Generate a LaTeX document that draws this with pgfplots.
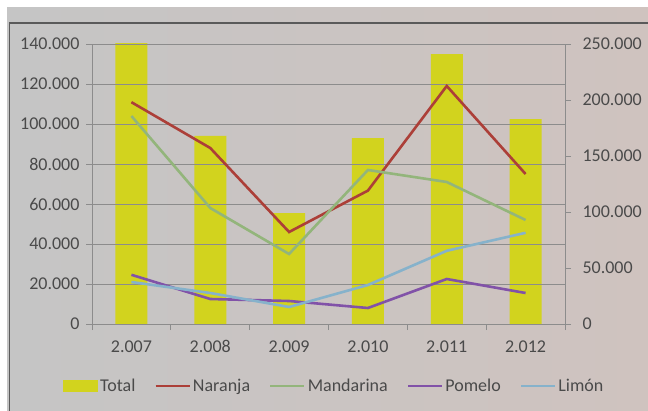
\documentclass[border=0pt]{standalone}
\usepackage{fontspec}
\setmainfont{Carlito}
\usepackage{pgfplots}
\pgfplotsset{compat=1.18}

\definecolor{bgL}{HTML}{C5C5C5}
\definecolor{bgR}{HTML}{CFC3BF}
\definecolor{framec}{HTML}{5A5A5A}
\definecolor{gridc}{HTML}{8C8C8C}
\definecolor{txt}{HTML}{4A4A4A}
\definecolor{barY}{HTML}{D2D31E}
\definecolor{naranja}{HTML}{AC3F38}
\definecolor{mandarina}{HTML}{93B57B}
\definecolor{pomelo}{HTML}{8152A8}
\definecolor{limon}{HTML}{86B2CB}

\pgfplotsset{
  base/.style={
    at={(92pt,86pt)}, anchor=south west,
    scale only axis, width=473pt, height=280pt,
    xmin=-0.5, xmax=5.5,
    axis line style={gridc, line width=0.8pt},
    tick style={gridc, line width=0.8pt},
    tick align=outside,
    major tick length=6pt,
    scaled y ticks=false,
    tick label style={font=\fontsize{18}{20}\selectfont, text=txt},
  },
}

\begin{document}
\begin{tikzpicture}
\fill[white] (0pt,0pt) rectangle (648pt,410pt);
\shade[left color=bgL, right color=bgR] (7pt,0pt) rectangle (648pt,402pt);
\draw[framec, line width=1.2pt] (9.5pt,-5pt) -- (9.5pt,387pt) -- (660pt,387pt);

% Total on the right axis
\begin{axis}[base,
  axis y line*=right, axis x line=none,
  ymin=0, ymax=250000,
  ytick={0,50000,100000,150000,200000,250000},
  yticklabels={0,50.000,100.000,150.000,200.000,250.000},
  yticklabel style={xshift=8pt},
  ybar, bar width=32pt,
]
\addplot[fill=barY, draw=none] coordinates {
  (0,251000) (1,168000) (2,99000) (3,166000) (4,241000) (5,183000)
};
\end{axis}

% varieties on the left axis
\begin{axis}[base,
  axis y line*=left, axis x line*=bottom,
  ymin=0, ymax=140000,
  ytick={0,20000,40000,60000,80000,100000,120000,140000},
  yticklabels={0,20.000,40.000,60.000,80.000,100.000,120.000,140.000},
  yticklabel style={xshift=-3pt},
  ymajorgrids, grid style={gridc, line width=0.8pt},
  xtick={-0.5,0.5,1.5,2.5,3.5,4.5,5.5}, xticklabels={},
  extra x ticks={0,1,2,3,4,5},
  extra x tick labels={2.007,2.008,2.009,2.010,2.011,2.012},
  extra x tick style={major tick length=0pt, tick label style={yshift=-13pt}},
  legend columns=5,
  legend style={at={(0.5116,-0.2214)}, anchor=center, draw=none, fill=none,
    font=\fontsize{18}{20}\selectfont, text=txt,
    /tikz/every even column/.append style={column sep=17pt}},
  legend image code/.code={\draw[#1] (0pt,0pt) -- (34pt,0pt);},
  every axis plot/.append style={line width=2.6pt},
]
\addlegendimage{legend image code/.code={\fill[barY] (0pt,-5pt) rectangle (33pt,5pt);}}
\addlegendentry{Total}
\addplot[naranja] coordinates {
  (0,110900) (1,88000) (2,46000) (3,66700) (4,119000) (5,75000)
};
\addlegendentry{Naranja}
\addplot[mandarina] coordinates {
  (0,104000) (1,58000) (2,35000) (3,77000) (4,71000) (5,52000)
};
\addlegendentry{Mandarina}
\addplot[pomelo] coordinates {
  (0,24600) (1,12500) (2,11500) (3,8000) (4,22500) (5,15500)
};
\addlegendentry{Pomelo}
\addplot[limon] coordinates {
  (0,21000) (1,15500) (2,8500) (3,19500) (4,36600) (5,45600)
};
\addlegendentry{Limón}
\end{axis}

\pgfresetboundingbox
\path (0pt,0pt) rectangle (648pt,410pt);
\end{tikzpicture}
\end{document}
